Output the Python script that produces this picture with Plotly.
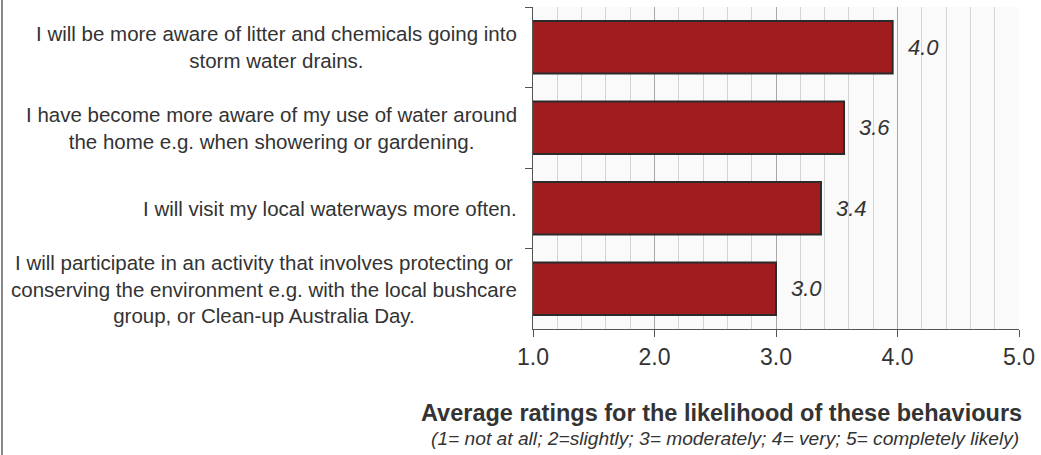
import plotly.graph_objects as go

categories = [
    "I will be more aware of litter and chemicals going into<br>storm water drains.",
    "I have become more aware of my use of water around<br>the home e.g. when showering or gardening.",
    "I will visit my local waterways more often.",
    "I will participate in an activity that involves protecting or<br>conserving the environment e.g. with the local bushcare<br>group, or Clean-up Australia Day.",
]
values = [3.96, 3.56, 3.37, 3.0]
value_labels = ["4.0", "3.6", "3.4", "3.0"]
x_ticks = [1, 2, 3, 4, 5]
x_tick_labels = ["1.0", "2.0", "3.0", "4.0", "5.0"]

FONT = "Liberation Sans, Arial, sans-serif"
TXT = "#333333"

fig = go.Figure()
fig.add_trace(go.Bar(
    y=categories, x=values, orientation="h", width=0.65,
    marker=dict(color="#a01c1f", line=dict(color="#2b2b2b", width=2)),
    hoverinfo="skip",
))

ann = []
for c, v, t in zip(categories, values, value_labels):
    ann.append(dict(x=v, y=c, xref="x", yref="y", text="<i>" + t + "</i>",
                    showarrow=False, xanchor="left", xshift=13,
                    font=dict(family=FONT, size=22, color=TXT)))
    ann.append(dict(x=0, y=c, xref="paper", yref="y", text=c, align="center",
                    showarrow=False, xanchor="right", xshift=-14,
                    font=dict(family=FONT, size=20.5, color=TXT)))

ann.append(dict(x=0.388, y=-0.262, xref="paper", yref="paper",
                text="<b>Average ratings for the likelihood of these behaviours</b>",
                showarrow=False, xanchor="center", yanchor="middle",
                font=dict(family=FONT, size=23.5, color=TXT)))
ann.append(dict(x=0.396, y=-0.34, xref="paper", yref="paper",
                text="<i>(1= not at all; 2=slightly; 3= moderately; 4= very; 5= completely likely)</i>",
                showarrow=False, xanchor="center", yanchor="middle",
                font=dict(family=FONT, size=19.2, color=TXT)))

fig.update_layout(
    width=1041, height=455,
    margin=dict(l=533, r=22, t=7, b=126),
    paper_bgcolor="white", plot_bgcolor="#fafafa",
    showlegend=False, bargap=0.35,
    annotations=ann,
    shapes=[dict(type="line", xref="paper", yref="paper",
                 x0=-531/486, x1=-531/486, y0=-0.4, y1=1.03,
                 line=dict(color="#888888", width=2))],
    xaxis=dict(range=[1, 5], tickvals=x_ticks, ticktext=x_tick_labels,
               showgrid=True, gridcolor="#a8a8a8", gridwidth=1,
               minor=dict(dtick=0.2, showgrid=True, gridcolor="#d4d4d4", gridwidth=1),
               showline=True, linecolor="#555555", linewidth=1,
               ticks="outside", ticklen=7, tickcolor="#555555",
               tickfont=dict(family=FONT, size=23, color=TXT), zeroline=False),
    yaxis=dict(autorange="reversed", showticklabels=False,
               showline=True, linecolor="#555555", linewidth=1,
               ticks="outside", tickson="boundaries", ticklen=7, tickcolor="#555555",
               showgrid=False),
)

fig.write_html("out.html")
